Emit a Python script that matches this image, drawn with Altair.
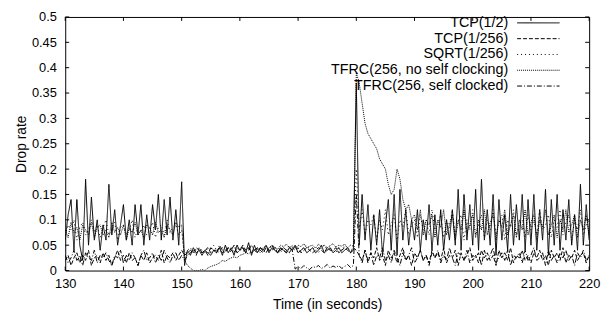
import altair as alt
import pandas as pd

FONT = "Liberation Sans"
W, H = 531, 257
TOP = 7

X_TICKS = [130, 140, 150, 160, 170, 180, 190, 200, 210, 220]
Y_TICKS = [0, 0.05, 0.1, 0.15, 0.2, 0.25, 0.3, 0.35, 0.4, 0.45, 0.5]

SERIES = ["TCP(1/2)", "TCP(1/256)", "SQRT(1/256)",
          "TFRC(256, no self clocking)", "TFRC(256, self clocked)"]
DASHES = [[1, 0], [4, 2], [1, 3], [1, 1], [5, 2, 1, 2]]

STEP = 0.5  # sampling interval (s)

# ---- TCP(1/2) ----
TCP_HALF_130 = [0.06, 0.11, 0.14, 0.04, 0.14, 0.05, 0.02, 0.18, 0.05, 0.145,
                0.06, 0.10, 0.04, 0.09, 0.06, 0.17, 0.07, 0.12, 0.05, 0.09,
                0.13, 0.06, 0.10, 0.05, 0.13, 0.07, 0.13, 0.05, 0.11, 0.06,
                0.13, 0.08, 0.15, 0.06, 0.14, 0.07, 0.145, 0.06, 0.12, 0.05,
                0.175]
TCP_HALF_150 = [0.01, 0.04, 0.03, 0.045, 0.035, 0.04, 0.03, 0.04, 0.035, 0.03,
                0.04, 0.035, 0.045, 0.03, 0.05, 0.035, 0.045, 0.03, 0.05, 0.04,
                0.045, 0.035, 0.055, 0.03, 0.05, 0.035, 0.045, 0.04, 0.05, 0.035,
                0.045, 0.04, 0.035, 0.045, 0.04, 0.035, 0.045, 0.04, 0.05, 0.035,
                0.04, 0.045, 0.035, 0.04, 0.045, 0.035, 0.04, 0.05, 0.035, 0.04,
                0.045, 0.035, 0.04, 0.045, 0.035, 0.04, 0.045, 0.035, 0.04]
TCP_HALF_180 = [0.37, 0.05, 0.15, 0.06, 0.13, 0.04, 0.11, 0.05, 0.12, 0.03,
                0.09, 0.14, 0.04, 0.15, 0.03, 0.16, 0.06, 0.12, 0.05, 0.10,
                0.06, 0.12, 0.04, 0.10, 0.06, 0.13, 0.04, 0.11, 0.05, 0.12,
                0.04, 0.10, 0.06, 0.12, 0.05, 0.16, 0.04, 0.15, 0.06, 0.13,
                0.05, 0.16, 0.04, 0.18, 0.06, 0.12, 0.05, 0.15, 0.03, 0.14,
                0.06, 0.11, 0.04, 0.15, 0.05, 0.13, 0.06, 0.15, 0.04, 0.14,
                0.05, 0.15, 0.04, 0.12, 0.06, 0.16, 0.03, 0.14, 0.05, 0.15,
                0.04, 0.12, 0.06, 0.14, 0.05, 0.11, 0.04, 0.17, 0.05, 0.13,
                0.06]

# ---- TCP(1/256) ----
TCP_256_130 = [0.02, 0.03, 0.01, 0.025, 0.035, 0.015, 0.03, 0.02, 0.04, 0.01,
               0.025, 0.03, 0.015, 0.035, 0.02, 0.03, 0.01, 0.025, 0.04, 0.02,
               0.03, 0.015, 0.035, 0.02, 0.025, 0.01, 0.03, 0.02, 0.035, 0.015,
               0.025, 0.03, 0.02, 0.04, 0.015, 0.03, 0.025, 0.035, 0.02, 0.03,
               0.04]
TCP_256_150 = [0.03, 0.035, 0.04, 0.035, 0.045, 0.04, 0.035, 0.04, 0.045, 0.035,
               0.04, 0.04, 0.045, 0.035, 0.04, 0.045, 0.04, 0.035, 0.045, 0.04,
               0.05, 0.04, 0.045, 0.035, 0.04, 0.045, 0.04, 0.035, 0.045, 0.04,
               0.04, 0.045, 0.035, 0.04, 0.045, 0.04, 0.035, 0.045, 0.04, 0.045,
               0.035, 0.04, 0.045, 0.04, 0.035, 0.04, 0.045, 0.04, 0.035, 0.045,
               0.04, 0.04, 0.045, 0.035, 0.04, 0.045, 0.04, 0.035, 0.045]
TCP_256_180 = [0.04, 0.03, 0.02, 0.04, 0.015, 0.035, 0.025, 0.045, 0.02, 0.03,
               0.01, 0.04, 0.025, 0.035, 0.015, 0.03, 0.045, 0.02, 0.03, 0.01,
               0.035, 0.025, 0.04, 0.02, 0.03, 0.015, 0.04, 0.025, 0.035, 0.02,
               0.045, 0.015, 0.03, 0.025, 0.04, 0.01, 0.035, 0.02, 0.03, 0.045,
               0.02, 0.03, 0.015, 0.04, 0.025, 0.035, 0.02, 0.03, 0.01, 0.04,
               0.025, 0.035, 0.02, 0.045, 0.015, 0.03, 0.025, 0.04, 0.02, 0.03,
               0.015, 0.035, 0.025, 0.04, 0.02, 0.03, 0.01, 0.04, 0.025, 0.035,
               0.02, 0.045, 0.015, 0.03, 0.025, 0.04, 0.02, 0.03, 0.035, 0.015,
               0.03]

# ---- SQRT(1/256) ----
SQRT_130 = [0.07, 0.09, 0.08, 0.1, 0.06, 0.085, 0.095, 0.07, 0.08, 0.1,
            0.075, 0.09, 0.065, 0.085, 0.1, 0.07, 0.08, 0.095, 0.06, 0.085,
            0.09, 0.07, 0.08, 0.1, 0.065, 0.085, 0.075, 0.09, 0.07, 0.08,
            0.095, 0.065, 0.085, 0.09, 0.07, 0.1, 0.075, 0.085, 0.09, 0.07,
            0.08]
SQRT_150 = [0.03, 0.04, 0.045, 0.035, 0.04, 0.045, 0.04, 0.035, 0.045, 0.04,
            0.05, 0.04, 0.035, 0.045, 0.04, 0.045, 0.035, 0.04, 0.05, 0.045,
            0.04, 0.035, 0.045, 0.05, 0.04, 0.045, 0.035, 0.04, 0.045, 0.04,
            0.05, 0.045, 0.04, 0.035, 0.045, 0.04, 0.05, 0.04, 0.045, 0.035,
            0.04, 0.045, 0.05, 0.04, 0.045, 0.04, 0.035, 0.045, 0.05, 0.04,
            0.045, 0.04, 0.035, 0.045, 0.04, 0.05, 0.045, 0.04, 0.045]
SQRT_180 = [0.2, 0.08, 0.12, 0.07, 0.1, 0.09, 0.11, 0.06, 0.1, 0.08,
            0.12, 0.07, 0.09, 0.11, 0.06, 0.1, 0.085, 0.12, 0.07, 0.09,
            0.1, 0.065, 0.11, 0.08, 0.1, 0.07, 0.12, 0.08, 0.09, 0.11,
            0.065, 0.1, 0.085, 0.12, 0.07, 0.095, 0.11, 0.06, 0.1, 0.08,
            0.12, 0.07, 0.09, 0.11, 0.065, 0.1, 0.08, 0.12, 0.07, 0.095,
            0.11, 0.06, 0.1, 0.085, 0.12, 0.07, 0.09, 0.1, 0.065, 0.11,
            0.08, 0.1, 0.07, 0.12, 0.08, 0.09, 0.11, 0.065, 0.1, 0.085,
            0.12, 0.07, 0.095, 0.11, 0.06, 0.1, 0.08, 0.12, 0.07, 0.09,
            0.1]

# ---- TFRC(256, no self clocking) ----
TFRC_NSC_130 = [0.08, 0.065, 0.095, 0.075, 0.085, 0.06, 0.09, 0.08, 0.07, 0.095,
                0.065, 0.085, 0.09, 0.07, 0.08, 0.065, 0.095, 0.075, 0.085, 0.07,
                0.09, 0.06, 0.085, 0.075, 0.095, 0.07, 0.08, 0.065, 0.09, 0.085,
                0.07, 0.095, 0.075, 0.08, 0.065, 0.09, 0.08, 0.07, 0.095, 0.085,
                0.09]
TFRC_NSC_150 = [0.02, 0.01, 0.005, 0.0, 0.0, 0.0, 0.002, 0.0,
                0.005, 0.008, 0.01, 0.012, 0.015, 0.02, 0.018, 0.022, 0.025, 0.027,
                0.025, 0.03, 0.032, 0.035, 0.033, 0.038, 0.04, 0.042, 0.04, 0.045,
                0.048, 0.044, 0.05, 0.046, 0.042, 0.05, 0.047, 0.052, 0.045, 0.049,
                0.044, 0.05, 0.047, 0.053, 0.045, 0.048, 0.05, 0.044, 0.052, 0.047,
                0.05, 0.045, 0.049, 0.053, 0.046, 0.05, 0.048, 0.052, 0.045, 0.05,
                0.048]
TFRC_NSC_180 = [0.39, 0.37, 0.33, 0.29, 0.27, 0.26, 0.25, 0.24, 0.22, 0.21,
                0.2, 0.17, 0.15, 0.16, 0.2, 0.18, 0.14, 0.12, 0.13, 0.1,
                0.11, 0.08, 0.12, 0.07, 0.1, 0.09, 0.11, 0.065, 0.1, 0.085,
                0.12, 0.07, 0.09, 0.11, 0.06, 0.1, 0.08, 0.12, 0.075, 0.09,
                0.11, 0.065, 0.1, 0.08, 0.12, 0.07, 0.095, 0.11, 0.06, 0.1,
                0.085, 0.12, 0.07, 0.09, 0.11, 0.065, 0.1, 0.08, 0.12, 0.07,
                0.095, 0.11, 0.06, 0.1, 0.085, 0.12, 0.07, 0.09, 0.11, 0.065,
                0.1, 0.08, 0.12, 0.075, 0.09, 0.11, 0.065, 0.1, 0.08, 0.11,
                0.07]

# ---- TFRC(256, self clocked) ----
TFRC_SC_130 = [0.03, 0.015, 0.025, 0.04, 0.02, 0.03, 0.01, 0.035, 0.025, 0.02,
               0.04, 0.015, 0.03, 0.025, 0.035, 0.02, 0.01, 0.03, 0.025, 0.04,
               0.015, 0.03, 0.02, 0.035, 0.025, 0.01, 0.03, 0.04, 0.02, 0.025,
               0.035, 0.015, 0.03, 0.02, 0.04, 0.025, 0.015, 0.03, 0.035, 0.02,
               0.03]
TFRC_SC_150 = [0.02, 0.03, 0.035, 0.04, 0.03, 0.045, 0.035, 0.04, 0.03, 0.045,
               0.04, 0.035, 0.05, 0.04, 0.035, 0.045, 0.04, 0.05, 0.035, 0.04,
               0.045, 0.035, 0.04, 0.05, 0.04, 0.035, 0.045, 0.04, 0.035, 0.045,
               0.05, 0.04, 0.035, 0.045, 0.04, 0.035, 0.045, 0.04,
               0.003, 0.008, 0.004, 0.01, 0.005, 0.002, 0.008, 0.006, 0.01, 0.004,
               0.007, 0.012, 0.005, 0.009, 0.006, 0.01, 0.004, 0.008, 0.012, 0.006,
               0.01]
TFRC_SC_180 = [0.15, 0.03, 0.015, 0.04, 0.02, 0.035, 0.01, 0.03, 0.025, 0.045,
               0.02, 0.03, 0.015, 0.04, 0.025, 0.01, 0.035, 0.02, 0.03, 0.045,
               0.015, 0.025, 0.04, 0.02, 0.03, 0.01, 0.035, 0.025, 0.04, 0.015,
               0.03, 0.02, 0.045, 0.025, 0.01, 0.035, 0.03, 0.02, 0.04, 0.015,
               0.03, 0.025, 0.035, 0.01, 0.04, 0.02, 0.03, 0.045, 0.015, 0.025,
               0.035, 0.02, 0.04, 0.01, 0.03, 0.025, 0.035, 0.015, 0.04, 0.02,
               0.03, 0.045, 0.02, 0.025, 0.035, 0.01, 0.04, 0.02, 0.03, 0.015,
               0.035, 0.025, 0.04, 0.02, 0.03, 0.01, 0.035, 0.025, 0.04, 0.02,
               0.03]

SEGMENTS = {
    SERIES[0]: [(130.0, TCP_HALF_130), (150.5, TCP_HALF_150), (180.0, TCP_HALF_180)],
    SERIES[1]: [(130.0, TCP_256_130), (150.5, TCP_256_150), (180.0, TCP_256_180)],
    SERIES[2]: [(130.0, SQRT_130), (150.5, SQRT_150), (180.0, SQRT_180)],
    SERIES[3]: [(130.0, TFRC_NSC_130), (150.5, TFRC_NSC_150), (180.0, TFRC_NSC_180)],
    SERIES[4]: [(130.0, TFRC_SC_130), (150.5, TFRC_SC_150), (180.0, TFRC_SC_180)],
}

rows = []
for name in SERIES:
    for start, vals in SEGMENTS[name]:
        for i, v in enumerate(vals):
            rows.append({"series": name, "t": start + STEP * i, "rate": v})
df = pd.DataFrame(rows)

x_scale = alt.Scale(domain=[130, 220], nice=False, zero=False)
y_scale = alt.Scale(domain=[0, 0.5], nice=False)
x_axis = alt.Axis(values=X_TICKS, tickCount=20, title="Time (in seconds)", format="d",
                  labelOverlap=False, labelFlush=False, labelBound=False)
y_axis = alt.Axis(values=Y_TICKS, tickCount=20, title="Drop rate", format="~g",
                  labelOverlap=False, labelFlush=False, labelBound=False)

X = alt.X("t:Q", scale=x_scale, axis=x_axis)
Y = alt.Y("rate:Q", scale=y_scale, axis=y_axis)

lines = alt.Chart(df).mark_line(color="black", strokeWidth=1, clip=True).encode(
    x=X, y=Y,
    strokeDash=alt.StrokeDash("series:N",
                              scale=alt.Scale(domain=SERIES, range=DASHES),
                              legend=None),
    order=alt.Order("t:Q"),
)

xt = pd.DataFrame({"t": X_TICKS})
yt = pd.DataFrame({"rate": Y_TICKS})
tick_len = 4
x_ticks_bottom = alt.Chart(xt).mark_rule(color="black").encode(
    x=X, y=alt.value(H), y2=alt.value(H - tick_len))
x_ticks_top = alt.Chart(xt).mark_rule(color="black").encode(
    x=X, y=alt.value(0), y2=alt.value(tick_len))
y_ticks_left = alt.Chart(yt).mark_rule(color="black").encode(
    y=Y, x=alt.value(0), x2=alt.value(tick_len))
y_ticks_right = alt.Chart(yt).mark_rule(color="black").encode(
    y=Y, x=alt.value(W), x2=alt.value(W - tick_len))

legend_layers = []
for i, (name, dash) in enumerate(zip(SERIES, DASHES)):
    yy = 6 + 16 * i
    legend_layers.append(
        alt.Chart(pd.DataFrame({"label": [name]})).mark_text(
            align="right", baseline="middle", font=FONT, fontSize=14.5, color="black"
        ).encode(text="label:N", x=alt.value(449), y=alt.value(yy))
    )
    legend_layers.append(
        alt.Chart(pd.DataFrame({"label": [name]})).mark_rule(
            color="black", strokeWidth=1, strokeDash=dash
        ).encode(x=alt.value(458), x2=alt.value(501), y=alt.value(yy))
    )

chart = alt.layer(
    lines, x_ticks_bottom, x_ticks_top, y_ticks_left, y_ticks_right, *legend_layers
).properties(
    width=W, height=H,
    autosize=alt.AutoSizeParams(type="none"),
    padding={"left": 58, "top": TOP, "right": 12, "bottom": 45},
).configure_view(
    stroke="black", strokeWidth=1
).configure_axis(
    grid=False, domain=False, ticks=False, labelOverlap=False, labelFlush=False,
    labelFont=FONT, labelFontSize=13, labelColor="black",
    titleFont=FONT, titleFontSize=14, titleColor="black", titleFontWeight="normal",
).configure_axisX(
    labelPadding=7, titlePadding=7
).configure_axisY(
    labelPadding=9, titlePadding=3
)

chart.save("out.html", embed_options={"renderer": "svg", "actions": False})
